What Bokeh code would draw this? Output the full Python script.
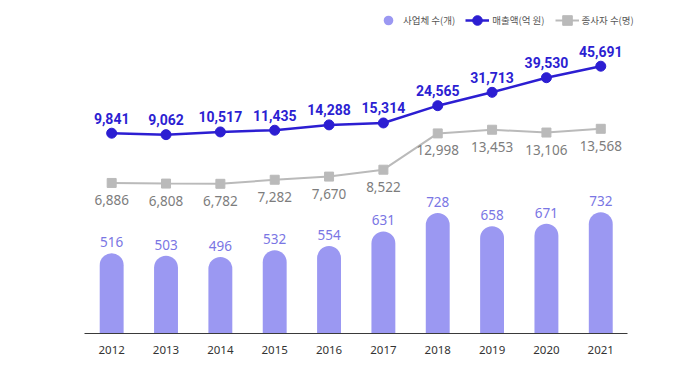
from bokeh.plotting import figure
from bokeh.models import Range1d, Legend, LegendItem, ColumnDataSource, FixedTicker
from bokeh.embed import file_html
from bokeh.resources import INLINE
from bokeh.core.properties import value

years = [2012, 2013, 2014, 2015, 2016, 2017, 2018, 2019, 2020, 2021]
establishments = [516, 503, 496, 532, 554, 631, 728, 658, 671, 732]
revenue = [9841, 9062, 10517, 11435, 14288, 15314, 24565, 31713, 39530, 45691]
employees = [6886, 6808, 6782, 7282, 7670, 8522, 12998, 13453, 13106, 13568]
legend_labels = ["사업체 수(개)", "매출액(억 원)", "종사자 수(명)"]

BAR = "#9b98f2"
BAR_TXT = "#7a76e4"
BLUE = "#2c1ed2"
GRAY = "#bababa"
GRAY_TXT = "#7d7d7d"
FONT = "Noto Sans"
BOLDF = "Roboto"
KFONT = "Noto Sans CJK KR"

BAR_BASE = 94

src = ColumnDataSource(dict(
    x=years, est=establishments, rev=revenue, emp=employees,
    est_l=[f"{v:,}" for v in establishments],
    rev_l=[f"{v:,}" for v in revenue],
    emp_l=[f"{v:,}" for v in employees],
))

p = figure(width=672, height=358, x_range=Range1d(2011.5, 2022.32),
           y_range=Range1d(BAR_BASE, 1794), y_axis_location=None,
           output_backend="svg", toolbar_location=None,
           min_border_left=84, min_border_right=0, min_border_top=10, min_border_bottom=25)
p.extra_y_ranges = {"rev": Range1d(-97329, 75491), "emp": Range1d(-11688, 28164)}
p.xgrid.visible = False
p.ygrid.visible = False
p.outline_line_color = None
p.background_fill_color = "white"
p.border_fill_color = "white"

ax = p.xaxis[0]
ax.ticker = FixedTicker(ticks=years)
ax.bounds = (2011.5, 2021.5)
ax.major_tick_line_color = None
ax.minor_tick_line_color = None
ax.axis_line_color = "#3a3a3a"
ax.axis_line_width = 1
ax.major_label_text_font = FONT
ax.major_label_text_font_size = "11.5px"
ax.major_label_text_color = "#333333"
ax.major_label_standoff = 6

p.vbar(x="x", top="est", bottom=BAR_BASE, width=0.44, source=src,
       fill_color=BAR, line_color=None, border_radius=(12, 12, 0, 0))
p.text(x="x", y="est", text="est_l", source=src, y_offset=-11,
       text_align="center", text_baseline="middle",
       text_font=value(FONT), text_font_size="13.5px", text_color=BAR_TXT)

rl = p.line(x="x", y="rev", source=src, y_range_name="rev", line_color=BLUE, line_width=2.5)
rs = p.scatter(x="x", y="rev", source=src, y_range_name="rev", marker="circle",
               size=10, fill_color=BLUE, line_color=BLUE)
p.text(x="x", y="rev", text="rev_l", source=src, y_range_name="rev", y_offset=-15,
       text_align="center", text_baseline="middle",
       text_font=value(BOLDF), text_font_size="14px", text_font_style="bold",
       text_color=BLUE)

gl = p.line(x="x", y="emp", source=src, y_range_name="emp", line_color=GRAY, line_width=2)
gs = p.scatter(x="x", y="emp", source=src, y_range_name="emp", marker="square",
               size=9, fill_color=GRAY, line_color=GRAY)
p.text(x="x", y="emp", text="emp_l", source=src, y_range_name="emp", y_offset=17,
       text_align="center", text_baseline="middle",
       text_font=value(FONT), text_font_size="13.5px", text_color=GRAY_TXT)

leg_dot = p.scatter(x="x", y="est", source=src, marker="circle", size=11,
                    fill_color=BAR, line_color=None, visible=False)

legend = Legend(items=[
    LegendItem(label=legend_labels[0], renderers=[leg_dot]),
    LegendItem(label=legend_labels[1], renderers=[rl, rs]),
    LegendItem(label=legend_labels[2], renderers=[gl, gs]),
], orientation="horizontal", location=(292, 301),
    label_text_font=KFONT, label_text_font_size="9.5px", label_text_color="#555555",
    glyph_width=24, glyph_height=24, label_standoff=3, spacing=10,
    padding=0, margin=0, border_line_color=None, background_fill_alpha=0)
p.add_layout(legend)

open("out.html", "w").write(file_html(p, INLINE))
